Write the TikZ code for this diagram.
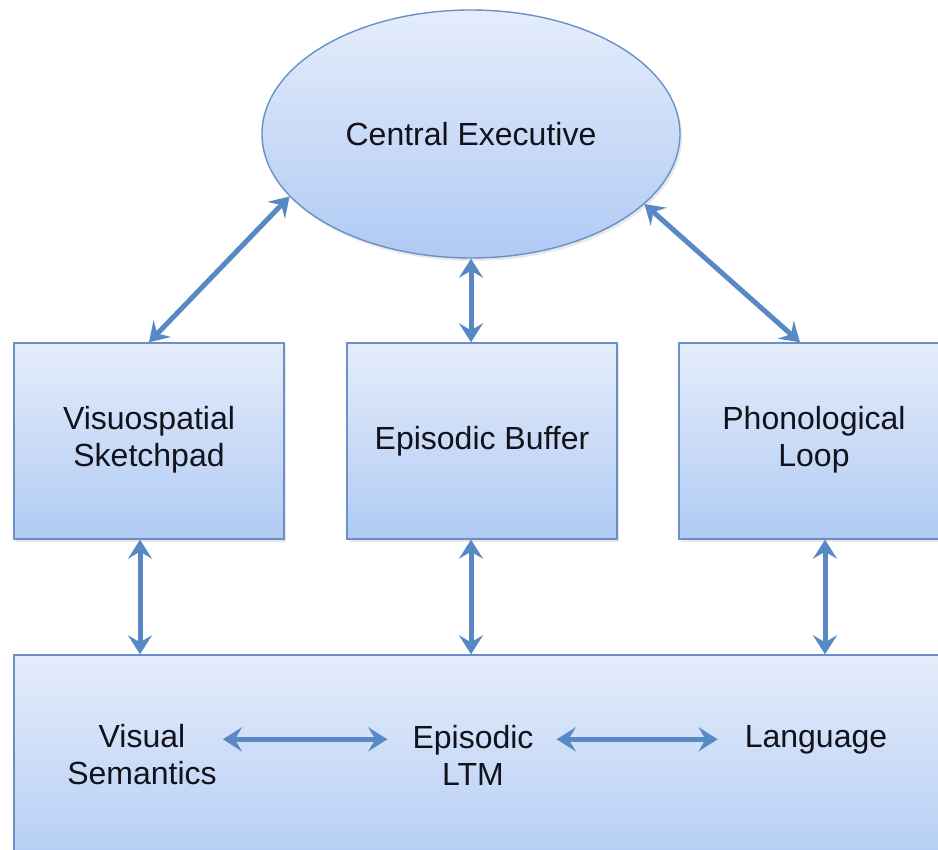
\documentclass[tikz,border=0pt]{standalone}
\usepackage{fontspec}
\setmainfont{Liberation Sans}
\usetikzlibrary{arrows.meta,shapes.geometric,shadows,calc}
\definecolor{boxtop}{RGB}{229,237,251}
\definecolor{boxbot}{RGB}{176,202,244}
\definecolor{edgec}{RGB}{105,145,198}
\definecolor{arrowc}{RGB}{88,137,196}
\definecolor{txt}{RGB}{18,18,26}
\begin{document}
\begin{tikzpicture}[x=1pt,y=-1pt,
  comp/.style={draw=edgec, line width=1.4pt, top color=boxtop, bottom color=boxbot,
    drop shadow={opacity=0.18,shadow xshift=2pt,shadow yshift=-3pt}, inner sep=0pt,
    font=\fontsize{32}{37}\selectfont, text=txt, align=center},
  lbl/.style={font=\fontsize{32}{37}\selectfont, text=txt, align=center, inner sep=0pt},
  arr/.style={draw=arrowc, line width=5pt,
    {Stealth[length=19pt,width=24pt,inset=7pt]}-{Stealth[length=19pt,width=24pt,inset=7pt]}}]
\clip (0,0) rectangle (938,850);
\fill[white] (0,0) rectangle (938,850);

% components
\node[comp, ellipse, minimum width=418pt, minimum height=248pt] (ce) at (471,134) {Central Executive};
\node[comp, rectangle, minimum width=270pt, minimum height=196pt] (vs) at (149,441) {\raisebox{-4pt}{\begin{tabular}{@{}c@{}}Visuospatial\\[0pt]Sketchpad\end{tabular}}};
\node[comp, rectangle, minimum width=270pt, minimum height=196pt] (eb) at (482,441) {\raisebox{-3pt}{Episodic Buffer}};
\node[comp, rectangle, minimum width=270pt, minimum height=196pt] (pl) at (814,441) {\raisebox{-4pt}{\begin{tabular}{@{}c@{}}Phonological\\[0pt]Loop\end{tabular}}};
\node[comp, rectangle, minimum width=956pt, minimum height=225pt] (ltm) at (492,767.5) {};

% labels inside long-term memory
\node[lbl] (vis) at (142,755) {Visual\\Semantics};
\node[lbl] (epi) at (473,755) {Episodic\\LTM};
\node[lbl, anchor=base] (lang) at (816,747) {Language};

% connectors
\draw[arr] (ce.-161) -- (vs.north);
\draw[arr] (ce.south) -- (ce.south |- eb.north);
\draw[arr] (ce.-22) -- ([xshift=-14pt]pl.north);
\draw[arr] ([xshift=-9pt]vs.south) -- ([xshift=-9pt]vs.south |- ltm.north);
\draw[arr] ([xshift=-11pt]eb.south) -- ([xshift=-11pt]eb.south |- ltm.north);
\draw[arr] ([xshift=11pt]pl.south) -- ([xshift=11pt]pl.south |- ltm.north);
\draw[arr, shorten <=6pt, shorten >=25pt] (vis.east |- lang) -- (epi.west |- lang);
\draw[arr, shorten <=23pt, shorten >=27pt] (epi.east |- lang) -- (lang.west);
\end{tikzpicture}
\end{document}
